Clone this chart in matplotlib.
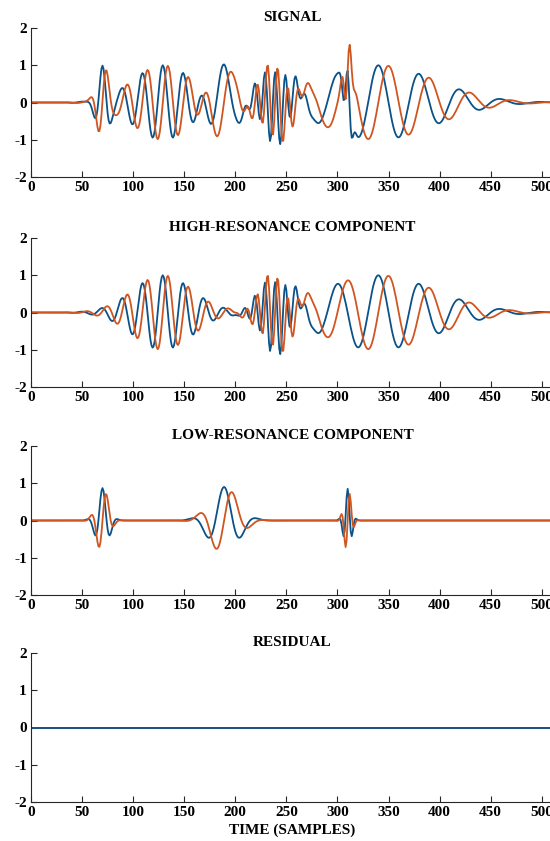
import matplotlib
matplotlib.use("Agg")
import matplotlib.pyplot as plt
import numpy as np

# sample axis
n_samples = 512

# high-resonance atoms (center, period, envelope width, amplitude)
hr_center = [129, 239, 340]
hr_period = [20, 10, 40]
hr_width = [41, 20, 78]
hr_amp = [1.0, 1.0, 1.0]

# low-resonance atoms
lr_center = [70, 189, 310]
lr_period = [16, 34, 9]
lr_width = [8.4, 19.5, 5.0]
lr_amp = [0.87, 0.9, 0.85]

titles = ["SIGNAL", "HIGH-RESONANCE COMPONENT", "LOW-RESONANCE COMPONENT", "RESIDUAL"]
x_ticks = [0, 50, 100, 150, 200, 250, 300, 350, 400, 450, 500]
y_ticks = [-2, -1, 0, 1, 2]

blue = "#0a5289"
orange = "#cf5620"

t = np.arange(n_samples)


def atoms(centers, periods, widths, amps):
    # complex sum of gaussian wavelets: real part = blue line, imaginary = orange
    z = np.zeros(n_samples, dtype=complex)
    for c, p, w, a in zip(centers, periods, widths, amps):
        z += a * np.exp(-((t - c) / w) ** 2) * np.exp(1j * 2 * np.pi * (t - c) / p)
    return z


high = atoms(hr_center, hr_period, hr_width, hr_amp)
low = atoms(lr_center, lr_period, lr_width, lr_amp)
signal = high + low
residual = signal - high - low
series = [signal, high, low, residual]

plt.rcParams['font.family'] = ['Liberation Serif', 'DejaVu Serif']
plt.rcParams['font.weight'] = 'bold'
plt.rcParams['axes.unicode_minus'] = False

fig = plt.figure(figsize=(5.5, 8.41), dpi=100)

W, H = 550.0, 841.0
tops = [28, 238, 446, 653]
ax_h = 149
left = 31
right = 554

for i, (top, z) in enumerate(zip(tops, series)):
    ax = fig.add_axes([left / W, (H - top - ax_h) / H, (right - left) / W, ax_h / H])
    if i == 3:
        ax.plot(t, z.imag, color=orange, linewidth=1.3)
        ax.plot(t, z.real, color=blue, linewidth=1.3)
    else:
        ax.plot(t, z.real, color=blue, linewidth=1.3)
        ax.plot(t, z.imag, color=orange, linewidth=1.3)
    ax.set_xlim(0, 512)
    ax.set_ylim(-2, 2)
    ax.set_xticks(x_ticks)
    ax.set_yticks(y_ticks)
    ax.tick_params(direction='in', length=4, width=0.8, color='#262626',
                   labelsize=11, pad=3)
    for lab in ax.get_xticklabels() + ax.get_yticklabels():
        lab.set_fontweight('bold')
    ax.spines['top'].set_visible(False)
    ax.spines['right'].set_visible(False)
    for s in ['left', 'bottom']:
        ax.spines[s].set_color('#262626')
        ax.spines[s].set_linewidth(0.8)
    ax.set_title(titles[i], fontsize=11, fontweight='bold', pad=5)
    if i == 3:
        ax.set_xlabel("TIME (SAMPLES)", fontsize=11, fontweight='bold', labelpad=3)

fig.savefig("out.png", dpi=100)
